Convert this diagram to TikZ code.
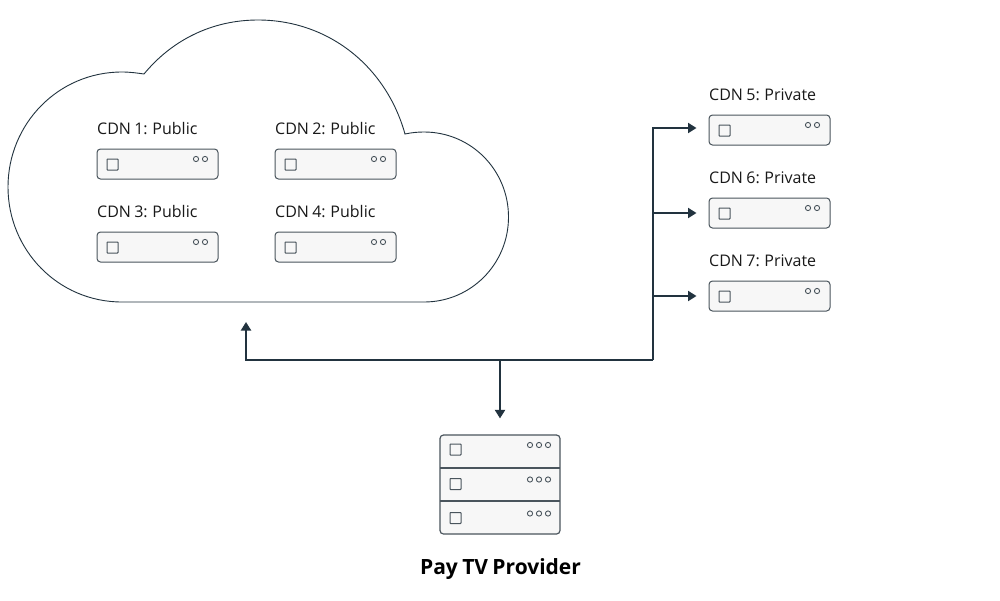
\documentclass[tikz,border=0pt]{standalone}
\usepackage{fontspec}
\setmainfont[WordSpace=0.8]{Open Sans}
\usetikzlibrary{arrows.meta}
\definecolor{ink}{HTML}{22333F}
\definecolor{edge}{HTML}{4A555D}
\definecolor{panel}{HTML}{F7F7F7}
\tikzset{
  srvbox/.style={draw=edge,fill=panel,line width=1pt,rounded corners=3.5pt,inner sep=0pt,minimum width=121pt,minimum height=30pt},
  provbox/.style={draw=edge,fill=panel,line width=1.2pt,rounded corners=3.5pt,inner sep=0pt,minimum width=120pt,minimum height=99pt},
  srvlabel/.style={anchor=base west,inner sep=0pt,font=\fontsize{16}{19}\selectfont,text=black!90},
  provlabel/.style={anchor=base,inner sep=0pt,font=\fontsize{21}{25}\selectfont\bfseries,text=black},
  conn/.style={draw=ink,line width=2pt,-{Triangle[length=8.5pt,width=10pt]}},
  mark square/.style={draw=edge,fill=panel,line width=1pt,rounded corners=.6pt},
  mark dot/.style={draw=edge,fill=panel,line width=.9pt},
  cloudline/.style={draw=ink,line width=.9pt,fill=white}
}
\newcommand{\srvunit}[5]{%
  \node[srvbox] (#1) at (#2+60.5,#3+15) {};
  \node[srvlabel] (#1label) at (#2,#3-14.2) {#4};
  \draw[mark square] (#2+10,#3+10) rectangle (#2+21,#3+21);
  \draw[mark dot] (#2+99,#3+10) circle (2.6pt);
  \draw[mark dot] (#2+108,#3+10) circle (2.6pt);
}
\newcommand{\provrow}[1]{%
  \draw[mark square] (450,#1) rectangle (461,#1+11);
  \draw[mark dot] (530,#1+1) circle (2.6pt);
  \draw[mark dot] (539,#1+1) circle (2.6pt);
  \draw[mark dot] (548,#1+1) circle (2.6pt);
}
\begin{document}
\begin{tikzpicture}[x=1pt,y=-1pt]
\useasboundingbox (0,0) rectangle (1000,600);
\fill[white] (0,0) rectangle (1000,600);
% cloud
\draw[cloudline] (144,74)
  .. controls (172,40) and (212,20) .. (258,20)
  .. controls (328,20) and (386,66) .. (405,134)
  .. controls (412,132.5) and (418,132) .. (424,132)
  .. controls (471,132) and (508.5,170) .. (508.5,217)
  .. controls (508.5,264) and (471,302) .. (424,302)
  -- (122,302)
  .. controls (58,302) and (8,250) .. (8,187)
  .. controls (8,124) and (58,72) .. (122,72)
  .. controls (130,72) and (137,73) .. (144,74) -- cycle;
\coordinate (cloudfoot) at (246,302);
% servers
\srvunit{cdna}{97}{149}{CDN 1: Public}{}
\srvunit{cdnb}{275}{149}{CDN 2: Public}{}
\srvunit{cdnc}{97}{232}{CDN 3: Public}{}
\srvunit{cdnd}{275}{232}{CDN 4: Public}{}
\srvunit{cdne}{709}{115}{CDN 5: Private}{}
\srvunit{cdnf}{709}{198}{CDN 6: Private}{}
\srvunit{cdng}{709}{281}{CDN 7: Private}{}
% provider
\node[provbox] (prov) at (500,484.5) {};
\draw[draw=edge,line width=1.2pt] (440,468) -- (560,468) (440,501) -- (560,501);
\provrow{444}
\provrow{478.5}
\provrow{512.5}
\node[provlabel] (provlabel) at (500.5,574) {Pay TV Provider};
% connectors
\coordinate (hub) at (500,360);
\coordinate (bus) at (653,360);
\coordinate (tapf) at (653,213);
\coordinate (tapg) at (653,296);
\draw[conn] (hub) -- ([yshift=16pt]prov.north);
\draw[conn] (bus) -- (hub) -| ([yshift=-20pt]cloudfoot);
\draw[conn] (bus) |- ([xshift=-12pt,yshift=2pt]cdne.west);
\draw[conn,shorten >=12pt] (tapf) -- (tapf -| cdnf.west);
\draw[conn,shorten >=12pt] (tapg) -- (tapg -| cdng.west);
\end{tikzpicture}
\end{document}
